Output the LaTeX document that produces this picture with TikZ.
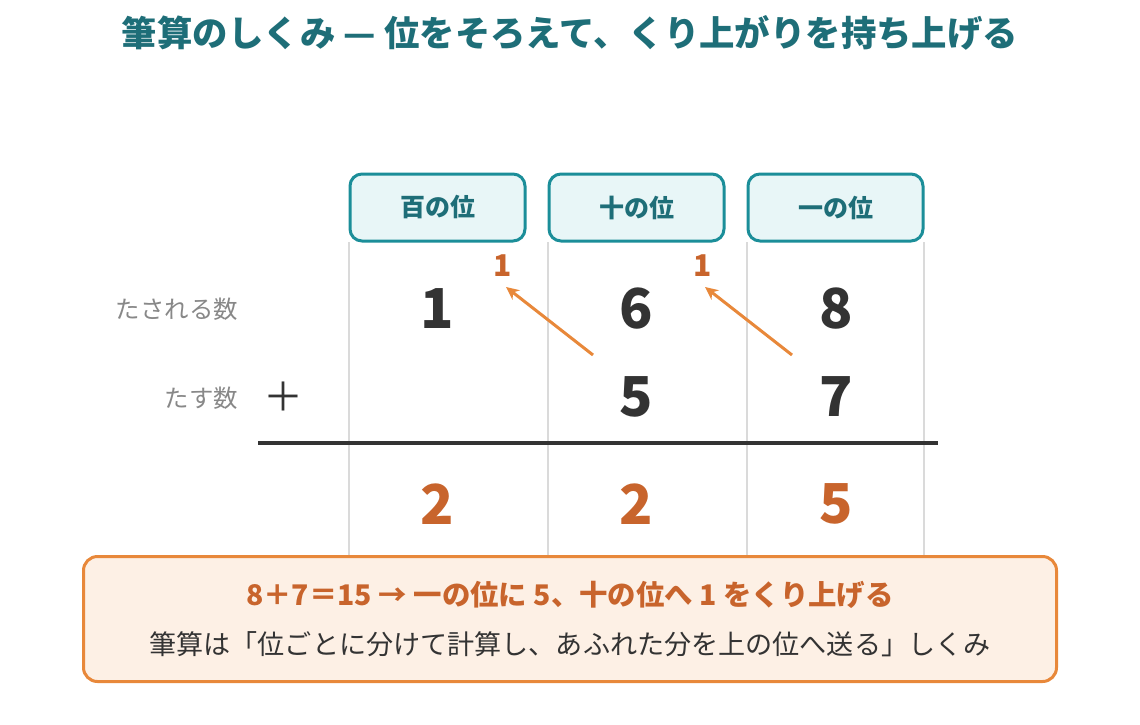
\documentclass[tikz,border=0pt]{standalone}
\usepackage{fontspec}
\setmainfont{Noto Sans CJK JP}
\usetikzlibrary{arrows.meta}
\definecolor{teal}{HTML}{1E6E78}
\definecolor{tealb}{HTML}{1B8E99}
\definecolor{tealf}{HTML}{E8F6F7}
\definecolor{orgline}{HTML}{E8883A}
\definecolor{orgtxt}{HTML}{C8642C}
\definecolor{orgfill}{HTML}{FDF0E5}
\definecolor{dark}{HTML}{333333}
\definecolor{gry}{HTML}{888888}
\definecolor{grid}{HTML}{DADADA}
\begin{document}
\begin{tikzpicture}[x=1pt,y=-1pt,
  hdr/.style={draw=tealb,line width=3pt,fill=tealf,rounded corners=12pt,minimum width=175pt,minimum height=67pt,inner sep=0pt,text=teal,font=\fontsize{25}{29}\selectfont\bfseries},
  digit/.style={text=dark,font=\fontsize{55}{60}\selectfont\bfseries,inner sep=0pt},
  res/.style={text=orgtxt,font=\fontsize{55}{60}\selectfont\bfseries,inner sep=0pt},
  carry/.style={text=orgtxt,font=\fontsize{30}{34}\selectfont\bfseries,inner sep=0pt},
  lbl/.style={text=gry,font=\fontsize{24.4}{28}\selectfont,inner sep=0pt,anchor=east},
  gridline/.style={draw=grid,line width=2pt},
  carryarrow/.style={draw=orgline,line width=3pt,-{Stealth[length=13pt,width=12pt]}}]
\useasboundingbox (0,0) rectangle (1140,724);
\fill[white] (0,0) rectangle (1140,724);
% title
\node[text=teal,font=\fontsize{35.4}{40}\selectfont\bfseries,inner sep=0pt] (title) at (570,33) {筆算のしくみ — 位をそろえて、くり上がりを持ち上げる};
% grid lines
\foreach \x/\n in {349/g1,548/g2,747/g3,924/g4}{
  \coordinate (\n t) at (\x,242);
  \coordinate (\n b) at (\x,556);
  \draw[gridline] (\n t) -- (\n b);
}
% headers
\node[hdr] (h1) at (437.5,207.5) {百の位};
\node[hdr] (h2) at (636.5,207.5) {十の位};
\node[hdr] (h3) at (835.5,207.5) {一の位};
% labels
\node[lbl] (l1) at (238,309) {たされる数};
\node[lbl] (l2) at (238,398) {たす数};
\node[text=dark,font=\fontsize{40}{44}\selectfont,inner sep=0pt] (plus) at (283,397) {＋};
% digits
\node[digit] (d1) at (437,309) {1};
\node[digit] (d2) at (636,309) {6};
\node[digit] (d3) at (836,309) {8};
\node[digit] (e2) at (636,397) {5};
\node[digit] (e3) at (836,397) {7};
% carries
\node[carry] (c1) at (503,266) {1};
\node[carry] (c2) at (703,266) {1};
\coordinate (a1s) at (593,355);
\coordinate (a1e) at (506,287);
\coordinate (a2s) at (792,355);
\coordinate (a2e) at (705,287);
\draw[carryarrow] (a1s) -- (a1e);
\draw[carryarrow] (a2s) -- (a2e);
% sum line
\coordinate (sl) at (258,443);
\coordinate (sr) at (938,443);
\draw[draw=dark,line width=4pt] (sl) -- (sr);
% results
\node[res] (r1) at (437,504) {2};
\node[res] (r2) at (636,504) {2};
\node[res] (r3) at (836,504) {5};
% explanation box
\node[draw=orgline,line width=3pt,fill=orgfill,rounded corners=14pt,minimum width=973pt,minimum height=125pt,inner sep=0pt] (box) at (570,619) {};
\node[text=orgtxt,font=\fontsize{28.4}{32}\selectfont\bfseries,inner sep=0pt] (bt1) at (570,595) {8＋7＝15 → 一の位に 5、十の位へ 1 をくり上げる};
\node[text=dark,font=\fontsize{27.1}{31}\selectfont,inner sep=0pt] (bt2) at (570,644) {筆算は「位ごとに分けて計算し、あふれた分を上の位へ送る」しくみ};
\end{tikzpicture}
\end{document}
